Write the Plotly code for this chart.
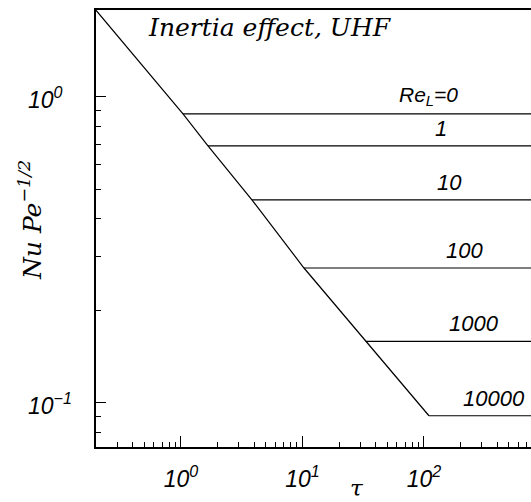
import plotly.graph_objects as go
import math

# ---- data ----
re_labels = ["<i>Re<sub>L</sub>=0</i>", "<i>1</i>", "<i>10</i>", "<i>100</i>", "<i>1000</i>", "<i>10000</i>"]
steady_nu = [0.880, 0.692, 0.461, 0.276, 0.159, 0.0908]   # plateau values of Nu Pe^-1/2
onset_tau = [1.04, 1.67, 3.84, 10.3, 33.3, 110.0]         # tau where each plateau starts
tau_end = 1000.0
diag_tau_start = 0.2
diag_nu_start = 1.92

x_tick_vals = [1, 10, 100, 1000]
x_tick_text = ["<i>10<sup>0</sup></i>", "<i>10<sup>1</sup></i>", "<i>10<sup>2</sup></i>", "<i>10<sup>3</sup></i>"]
y_tick_vals = [0.1, 1]
y_tick_text = ["<i>10<sup>−1</sup></i>", "<i>10<sup>0</sup></i>"]
x_minor = [m * 10 ** e for e in (-1, 0, 1, 2) for m in range(2, 10)]
y_minor = [0.07, 0.08, 0.09] + [m / 10 for m in range(2, 10)]

fig = go.Figure()

# conduction (diagonal) branch through the plateau onsets
fig.add_trace(go.Scatter(
    x=[diag_tau_start] + onset_tau,
    y=[diag_nu_start] + steady_nu,
    mode="lines", line=dict(color="black", width=1.2), showlegend=False, hoverinfo="skip"))

for t0, v in zip(onset_tau, steady_nu):
    fig.add_trace(go.Scatter(
        x=[t0, tau_end], y=[v, v], mode="lines",
        line=dict(color="black", width=1.2), showlegend=False, hoverinfo="skip"))

W, H = 531, 502
left, top, bottom = 96, 10, 55
PW, PH = W - left, H - top - bottom

label_x = [428, 441, 449, 464, 474, 494]  # pixel centres (for conversion below)
label_size = [21, 22, 22, 22, 22, 22]
x0_log = math.log10(0.2)
px_per_dec = 121.5
for lab, v, px, fs in zip(re_labels, steady_nu, label_x, label_size):
    fig.add_annotation(
        x=x0_log + (px - left) / px_per_dec, y=math.log10(v), xref="x", yref="y",
        text=lab, showarrow=False, yanchor="bottom", xanchor="center", yshift=3,
        font=dict(family="Liberation Sans", size=fs, color="black"))

# y tick labels (left-aligned as in the reference)
for v, t in zip(y_tick_vals, y_tick_text):
    fig.add_annotation(
        x=(26 - left) / PW, y=math.log10(v), xref="paper", yref="y",
        text=t, showarrow=False, xanchor="left", yanchor="middle", yshift=-1,
        font=dict(family="Liberation Sans", size=23, color="black"))

fig.add_annotation(
    x=(146 - left) / PW, y=(H - bottom - 28) / PH, xref="paper", yref="paper", xanchor="left", yanchor="middle",
    text="<i>Inertia effect, UHF</i>", showarrow=False,
    font=dict(family="DejaVu Serif", size=25, color="black"))

fig.add_annotation(
    x=(357 - left) / PW, y=(H - bottom - 488) / PH, xref="paper", yref="paper", xanchor="center", yanchor="middle",
    text="<i>τ</i>", showarrow=False,
    font=dict(family="DejaVu Serif", size=23, color="black"))

fig.add_annotation(
    x=(30 - left) / PW, y=(H - bottom - 220) / PH, xref="paper", yref="paper", xanchor="center", yanchor="middle",
    text="<i>Nu Pe<sup>−1/2</sup></i>", showarrow=False, textangle=-90,
    font=dict(family="DejaVu Serif", size=25, color="black"))

fig.update_layout(
    width=W, height=H,
    margin=dict(l=left, r=0, t=top, b=bottom, autoexpand=False),
    plot_bgcolor="white", paper_bgcolor="white",
    showlegend=False,
)
fig.update_xaxes(
    type="log", range=[x0_log, x0_log + PW / px_per_dec], automargin=False,
    showgrid=False, zeroline=False,
    showline=True, linecolor="black", linewidth=2, mirror=True,
    ticks="inside", ticklen=11, tickwidth=1.2, tickcolor="black",
    tickmode="array", tickvals=x_tick_vals, ticktext=x_tick_text,
    tickfont=dict(family="Liberation Sans", size=23, color="black"),
    ticklabelstandoff=10,
    minor=dict(ticks="inside", ticklen=5, tickwidth=1, tickcolor="black",
               tickmode="array", tickvals=x_minor, showgrid=False),
)
fig.update_yaxes(
    type="log", range=[-1.144, 0.284], automargin=False,
    showgrid=False, zeroline=False,
    showline=True, linecolor="black", linewidth=2, mirror=False,
    ticks="inside", ticklen=10, tickwidth=1.2, tickcolor="black",
    tickmode="array", tickvals=y_tick_vals, showticklabels=False,
    minor=dict(ticks="inside", ticklen=5, tickwidth=1, tickcolor="black",
               tickmode="array", tickvals=y_minor, showgrid=False),
)

fig.write_html("out.html")
